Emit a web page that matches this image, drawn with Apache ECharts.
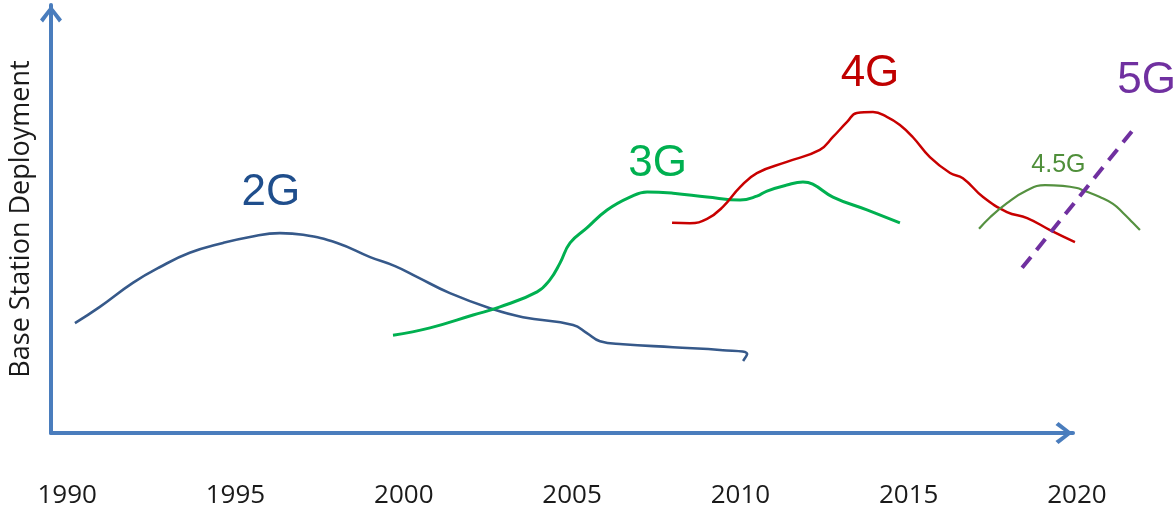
<!DOCTYPE html>
<html>
<head>
<meta charset="utf-8">
<title>Base Station Deployment</title>
<script src="https://cdn.jsdelivr.net/npm/echarts@6/dist/echarts.min.js"></script>
<style>
html, body { margin: 0; padding: 0; background: #fff; }
#main { width: 1176px; height: 512px; }
</style>
</head>
<body>
<div id="main"></div>
<script>
// year ticks under the axis
var tickYears = [1990, 1995, 2000, 2005, 2010, 2015, 2020];

// curves (x = year, y = relative deployment 0..100)
var years2G = [1990.23, 1990.97, 1991.95, 1992.76, 1993.64, 1994.63, 1995.43, 1996.32, 1997.01, 1998.02, 1999.00, 1999.74,
    2000.39, 2001.37, 2002.56, 2003.54, 2005.03, 2005.44, 2005.83, 2006.51, 2008.00, 2009.48, 2010.20, 2010.08];
var level2G = [25.6, 29.4, 35.0, 38.7, 42.0, 44.3, 45.7, 46.6, 46.2, 44.3, 41.0, 38.9,
    36.4, 32.6, 29.1, 27.0, 25.2, 23.3, 21.4, 20.7, 20.0, 19.3, 18.4, 16.8];

var years3G = [1999.68, 2000.78, 2002.06, 2002.86, 2003.96, 2004.34, 2004.64, 2004.94, 2005.44, 2006.04, 2006.72, 2007.23,
    2008.00, 2009.01, 2009.99, 2010.49, 2010.79, 2011.38, 2011.86, 2012.15, 2012.75, 2013.76, 2014.74];
var level3G = [22.8, 24.5, 27.5, 29.4, 32.9, 35.7, 39.6, 44.3, 47.8, 52.0, 55.0, 56.2,
    55.9, 55.0, 54.3, 55.2, 56.4, 57.8, 58.5, 58.0, 55.0, 52.0, 49.0];

var years4G = [2007.97, 2008.50, 2009.01, 2009.48, 2009.99, 2010.49, 2011.38, 2012.36, 2012.75, 2013.17, 2013.46, 2013.94,
    2014.35, 2014.74, 2015.12, 2015.63, 2016.23, 2016.61, 2017.21, 2017.92, 2018.52, 2019.20, 2019.94];
var level4G = [49.0, 48.9, 49.9, 52.7, 57.3, 60.6, 63.2, 66.0, 69.0, 72.5, 74.6, 74.8,
    73.7, 71.8, 69.0, 64.3, 60.6, 59.4, 55.0, 51.5, 50.1, 47.3, 44.5];

var years45G = [2017.09, 2017.42, 2017.92, 2018.52, 2019.05, 2019.58, 2020.00, 2020.18, 2020.68, 2021.07, 2021.37, 2021.66, 2021.87];
var level45G = [47.6, 50.3, 53.6, 56.6, 57.8, 57.6, 57.1, 56.6, 55.0, 53.4, 51.3, 49.0, 47.3];

var years5G = [2018.37, 2021.66];
var level5G = [38.5, 70.6];

// curve names written on the chart
var labelNames = ['2G', '3G', '4G', '4.5G', '5G'];
var labelYears = [1996.05, 2007.54, 2013.85, 2019.45, 2022.07];
var labelLevels = [55.9, 62.7, 83.7, 62.5, 82.1];

var colors = {
    '2G': '#36598a',
    '3G': '#00b050',
    '4G': '#c80000',
    '4.5G': '#559140',
    '5G': '#7030a0'
};
var textColors = {
    '2G': '#1f4e8c',
    '3G': '#00b050',
    '4G': '#c00000',
    '4.5G': '#4f8f3a',
    '5G': '#7030a0'
};

function pairs(xs, ys) {
    return xs.map(function (x, i) { return [x, ys[i]]; });
}

// open arrow head, like the drawn axis arrows
var chevron = 'path://M11,0 L22,14 L19,17 L11,6 L3,17 L0,14 Z';
var axisBlue = '#4a7dbd';

var myChart = echarts.init(document.getElementById('main'));

var option = {
    animation: false,
    backgroundColor: '#ffffff',
    grid: [
        // data grid
        {left: 48, right: 21.6, top: 4, bottom: 79},
        // grid only for the arrowed axes
        {left: 48, right: 103, top: 5, bottom: 79}
    ],
    xAxis: [
        {
            type: 'value', gridIndex: 0, min: 1989.43, max: 2022.3,
            axisLine: {show: false}, axisTick: {show: false}, splitLine: {show: false},
            axisLabel: {
                customValues: tickYears,
                margin: 50,
                fontFamily: 'Open Sans', fontSize: 26, color: '#1a1a1a',
                formatter: function (v) { return String(v); }
            }
        },
        {
            type: 'value', gridIndex: 1, min: 0, max: 1,
            axisLine: {
                show: true, lineStyle: {color: axisBlue, width: 4},
                symbol: ['none', chevron], symbolSize: [22, 18], symbolOffset: [0, -9]
            },
            axisTick: {show: false}, axisLabel: {show: false}, splitLine: {show: false}
        }
    ],
    yAxis: [
        {
            type: 'value', gridIndex: 0, min: 0, max: 100,
            axisLine: {show: false}, axisTick: {show: false}, splitLine: {show: false},
            axisLabel: {show: false}
        },
        {
            type: 'value', gridIndex: 1, min: 0, max: 1,
            name: 'Base Station Deployment', nameLocation: 'middle', nameGap: 16, nameRotate: 90,
            nameTextStyle: {fontFamily: 'Open Sans', fontSize: 27, color: '#1a1a1a'},
            axisLine: {
                show: true, lineStyle: {color: axisBlue, width: 4},
                symbol: ['none', chevron], symbolSize: [22, 18], symbolOffset: [0, -9]
            },
            axisTick: {show: false}, axisLabel: {show: false}, splitLine: {show: false}
        }
    ],
    series: [
        {
            name: '2G', type: 'line', xAxisIndex: 0, yAxisIndex: 0,
            data: pairs(years2G, level2G), smooth: 0.45, showSymbol: false,
            lineStyle: {color: colors['2G'], width: 2.6}
        },
        {
            name: '3G', type: 'line', xAxisIndex: 0, yAxisIndex: 0,
            data: pairs(years3G, level3G), smooth: 0.45, showSymbol: false,
            lineStyle: {color: colors['3G'], width: 3}
        },
        {
            name: '4G', type: 'line', xAxisIndex: 0, yAxisIndex: 0,
            data: pairs(years4G, level4G), smooth: 0.45, showSymbol: false,
            lineStyle: {color: colors['4G'], width: 2.5}
        },
        {
            name: '4.5G', type: 'line', xAxisIndex: 0, yAxisIndex: 0,
            data: pairs(years45G, level45G), smooth: 0.45, showSymbol: false,
            lineStyle: {color: colors['4.5G'], width: 2.2}
        },
        {
            name: '5G', type: 'line', xAxisIndex: 0, yAxisIndex: 0,
            data: pairs(years5G, level5G), showSymbol: false,
            lineStyle: {color: colors['5G'], width: 4, type: [14, 9]}
        },
        {
            name: 'labels', type: 'scatter', xAxisIndex: 0, yAxisIndex: 0,
            symbolSize: 0, silent: true,
            itemStyle: {opacity: 1},
            data: labelNames.map(function (n, i) {
                return {
                    name: n,
                    value: [labelYears[i], labelLevels[i]],
                    label: {color: textColors[n], fontSize: n === '4.5G' ? 25 : 44}
                };
            }),
            label: {
                show: true, position: 'inside', formatter: '{b}', opacity: 1,
                fontFamily: 'Liberation Sans', align: 'center', verticalAlign: 'middle'
            }
        }
    ]
};

myChart.setOption(option);
</script>
</body>
</html>
